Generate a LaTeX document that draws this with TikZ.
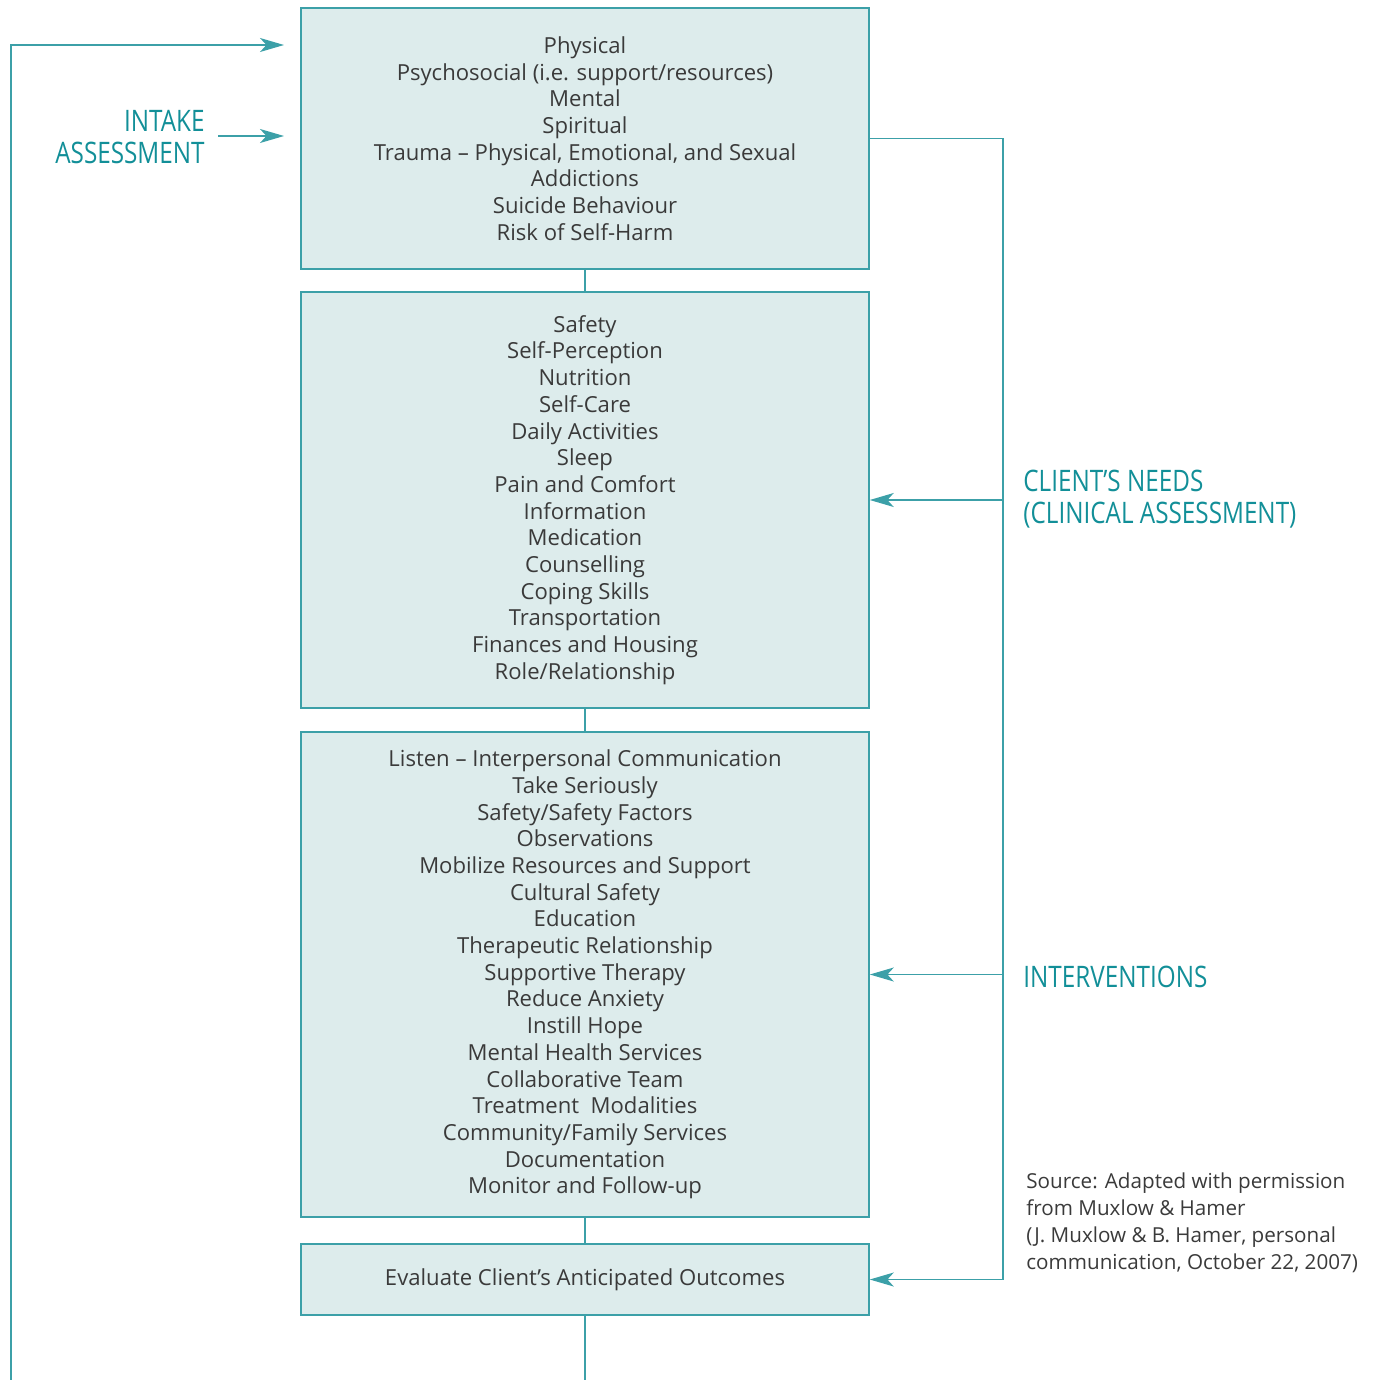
\documentclass[tikz,border=0pt]{standalone}
\usepackage{fontspec}
\setmainfont{Open Sans}
\newfontfamily\condfont[FakeStretch=0.82]{Open Sans}
\usetikzlibrary{arrows.meta}
\definecolor{boxfill}{HTML}{DDECEC}
\definecolor{boxline}{HTML}{3CA0A8}
\definecolor{tealtxt}{HTML}{128F98}
\definecolor{txtgray}{HTML}{3A3A3A}
\newcommand{\boxfont}{\fontsize{11.05}{13.35}\selectfont}
\newcommand{\labfont}{\condfont\fontsize{14.8}{16}\selectfont}
\newcommand{\srcfont}{\fontsize{10.32}{13.5}\selectfont}
\begin{document}
\begin{tikzpicture}[x=0.5pt,y=-0.5pt,
  stepbox/.style={draw=boxline, fill=boxfill, line width=0.75pt, minimum width=284pt, inner sep=0pt, align=center, text=txtgray, font=\boxfont},
  link/.style={draw=boxline, line width=0.75pt},
  arr/.style={link, -{Stealth[length=12pt,width=7pt,inset=3.2pt]}},
  lab/.style={text=tealtxt, font=\labfont, inner sep=0pt}]
\useasboundingbox (0,0) rectangle (1374,1380);
\node[stepbox, minimum height=130.5pt] (b1) at (585,138.5) {Physical\\Psychosocial (i.e. support/resources)\\Mental\\Spiritual\\Trauma – Physical, Emotional, and Sexual\\Addictions\\Suicide Behaviour\\Risk of Self-Harm};
\node[stepbox, minimum height=208pt] (b2) at (585,500) {Safety\\Self-Perception\\Nutrition\\Self-Care\\Daily Activities\\Sleep\\Pain and Comfort\\Information\\Medication\\Counselling\\Coping Skills\\Transportation\\Finances and Housing\\Role/Relationship};
\node[stepbox, minimum height=242.5pt] (b3) at (585,974.5) {Listen – Interpersonal Communication\\Take Seriously\\Safety/Safety Factors\\Observations\\Mobilize Resources and Support\\Cultural Safety\\Education\\Therapeutic Relationship\\Supportive Therapy\\Reduce Anxiety\\Instill Hope\\Mental Health Services\\Collaborative Team\\Treatment\ \ Modalities\\Community/Family Services\\Documentation\\Monitor and Follow-up};
\node[stepbox, minimum height=35.5pt] (b4) at (585,1279.5) {Evaluate Client’s Anticipated Outcomes};
\draw[link] (b1.south) -- (b2.north);
\draw[link] (b2.south) -- (b3.north);
\draw[link] (b3.south) -- (b4.north);
\coordinate (bot) at (585,1380);
\draw[link] (b4.south) -- (bot);
\coordinate (L0) at (11,1380);
\coordinate (L1) at (11,45);
\coordinate (T1) at (284,45);
\draw[arr] (L0) -- (L1) -- (T1);
\coordinate (I0) at (218,136);
\coordinate (I1) at (284,136);
\draw[arr] (I0) -- (I1);
\coordinate (R) at (1003,137);
\draw[arr] (b1.east) -- (b1.east -| R) -- (b4.east -| R) -- (b4.east);
\draw[arr] (b2.east -| R) -- (b2.east);
\draw[arr] (b3.east -| R) -- (b3.east);
\node[lab, anchor=east, align=right] (intake) at (205,137) {INTAKE\\ASSESSMENT};
\node[lab, anchor=west, align=left] (needs) at (1023,499) {CLIENT’S NEEDS\\(CLINICAL ASSESSMENT)};
\node[lab, anchor=west, align=left] (interv) at (1023,977) {INTERVENTIONS};
\node[anchor=west, align=left, inner sep=0pt, text=txtgray, font=\srcfont] (src) at (1026,1223) {Source: Adapted with permission\\from Muxlow \& Hamer\\(J. Muxlow \& B. Hamer, personal\\communication, October 22, 2007)};
\end{tikzpicture}
\end{document}
